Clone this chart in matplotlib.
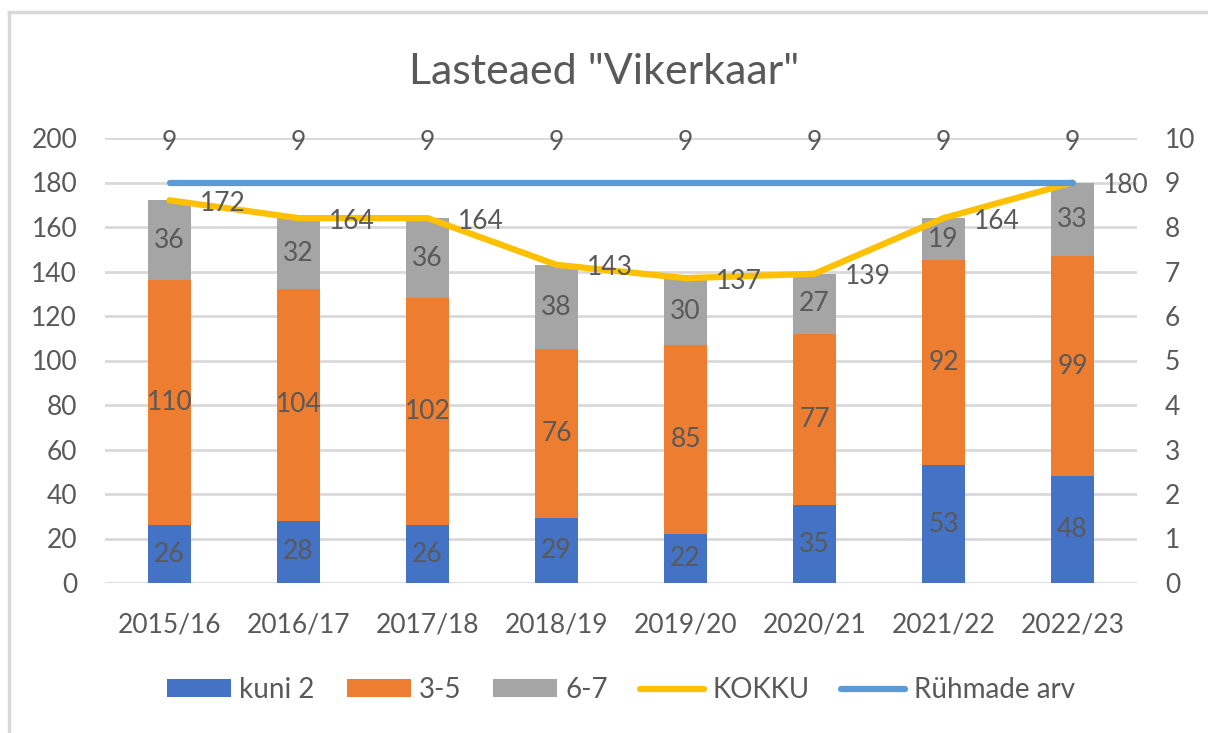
import matplotlib.pyplot as plt
import numpy as np
from matplotlib.lines import Line2D

plt.rcParams['font.family'] = ['Lato', 'DejaVu Sans']

years = ["2015/16", "2016/17", "2017/18", "2018/19", "2019/20", "2020/21", "2021/22", "2022/23"]
kuni2 = [26, 28, 26, 29, 22, 35, 53, 48]
v35 = [110, 104, 102, 76, 85, 77, 92, 99]
v67 = [36, 32, 36, 38, 30, 27, 19, 33]
kokku = [172, 164, 164, 143, 137, 139, 164, 180]
ryhmad = [9, 9, 9, 9, 9, 9, 9, 9]

txt = "#595959"
grid = "#d9d9d9"
c_blue, c_orange, c_gray = "#4472C4", "#ED7D31", "#A5A5A5"
c_yellow, c_lblue = "#FFC000", "#5B9BD5"
fs = 19

fig = plt.figure(figsize=(12.08, 7.33), dpi=100)
ax = fig.add_axes([105 / 1208, 1 - 583 / 733, (1137 - 105) / 1208, (583 - 138) / 733])
x = np.arange(len(years))
w = 0.33

b1 = ax.bar(x, kuni2, w, color=c_blue, label="kuni 2", zorder=2)
b2 = ax.bar(x, v35, w, bottom=kuni2, color=c_orange, label="3-5", zorder=2)
bot3 = np.array(kuni2) + np.array(v35)
b3 = ax.bar(x, v67, w, bottom=bot3, color=c_gray, label="6-7", zorder=2)
for bars in (b1, b2, b3):
    ax.bar_label(bars, label_type="center", fontsize=fs, color=txt)

ax.set_xlim(-0.5, len(years) - 0.5)
ax.set_ylim(0, 200)
ax.set_yticks(range(0, 201, 20))
ax.yaxis.grid(True, color=grid, linewidth=2, zorder=0)
ax.set_axisbelow(True)
for s in ax.spines.values():
    s.set_visible(False)
ax.tick_params(axis="both", length=0, labelsize=fs, labelcolor=txt)
ax.tick_params(axis="y", pad=20)
ax.tick_params(axis="x", pad=21)
ax.set_xticks(x)
ax.set_xticklabels(years)

ax2 = ax.twinx()
ax2.set_ylim(0, 10)
ax2.set_yticks(range(0, 11))
for s in ax2.spines.values():
    s.set_visible(False)
ax2.tick_params(axis="y", length=0, labelsize=fs, labelcolor=txt, pad=20)

ln1, = ax2.plot(x, np.array(kokku) / 20, color=c_yellow, linewidth=4.5,
                solid_capstyle="round", solid_joinstyle="round", label="KOKKU", zorder=3)
ln2, = ax2.plot(x, ryhmad, color=c_lblue, linewidth=4.5,
                solid_capstyle="round", label="Rühmade arv", zorder=4)
for xi, v in zip(x, kokku):
    ax2.annotate(str(v), (xi, v / 20), xytext=(30, -3), textcoords="offset pixels",
                 ha="left", va="center", fontsize=fs, color=txt)
for xi, v in zip(x, ryhmad):
    ax2.annotate(str(v), (xi, v), xytext=(0, 40), textcoords="offset pixels",
                 ha="center", va="center", fontsize=fs, color=txt)

fig.text(0.5, 1 - 72 / 733, 'Lasteaed "Vikerkaar"', ha="center", va="center",
         fontsize=31, color=txt)

fig.legend(handles=[b1, b2, b3, ln1, ln2], loc="center", bbox_to_anchor=(0.514, 1 - 690 / 733),
           ncol=5, frameon=False, fontsize=20, labelcolor=txt, handlelength=2.3,
           handleheight=0.6, handletextpad=0.3, columnspacing=1.15)

fig.add_artist(Line2D([9 / 1208, 1], [1 - 12 / 733] * 2, color=grid, linewidth=2.5,
                      transform=fig.transFigure))
fig.add_artist(Line2D([9 / 1208] * 2, [0, 1 - 12 / 733], color=grid, linewidth=2.5,
                      transform=fig.transFigure))

fig.savefig("out.png", dpi=100, facecolor="white")
